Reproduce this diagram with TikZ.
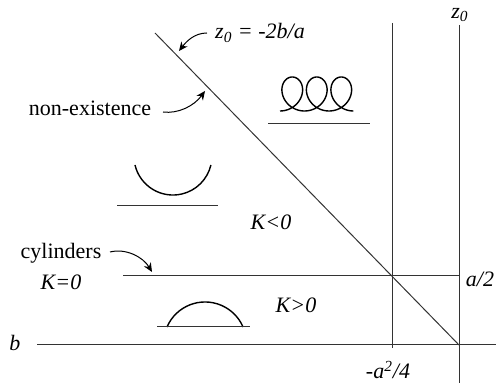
\documentclass[tikz,border=0pt]{standalone}
\usepackage{fontspec}
\setmainfont{Liberation Serif}
\usetikzlibrary{arrows.meta}

\begin{document}
\begin{tikzpicture}[
  x=0.5pt, y=-0.5pt,
  font=\rmfamily\fontsize{11}{13}\selectfont,
  txt/.style={inner sep=1pt},
  lbl/.style={txt, font=\rmfamily\fontsize{11}{13}\selectfont\itshape},
  ax/.style={draw=black!80, line width=0.5pt},
  shp/.style={draw=black, line width=0.7pt},
  ar/.style={-{Stealth[length=4.5pt,width=4pt]}, draw=black, line width=0.5pt},
]
\useasboundingbox (0,0) rectangle (496,383);

% axes and borders of the regions
\coordinate (bl) at (37,345);
\coordinate (br) at (496,345);
\coordinate (zt) at (459,25);
\coordinate (zb) at (459,383);
\coordinate (vt) at (392,23);
\coordinate (vb) at (392,348);
\coordinate (hl) at (123,276);
\coordinate (hr) at (459,276);
\coordinate (dt) at (155,33);
\coordinate (db) at (459,345);

\draw[ax] (bl) -- (br);
\draw[ax] (zt) -- (zb);
\draw[ax] (vt) -- (vb);
\draw[ax] (hl) -- (hr);
\draw[ax] (dt) -- (db);

\node[lbl] (b)    at (15,343)  {b};
\node[lbl] (z0)   at (460,15)  {z\textsubscript{0}};
\node[lbl] (a2)   at (480,279) {a/2};
\node[lbl] (a24)  at (388,370) {-a\textsuperscript{2}/4};
\node[lbl] (kneg) at (271,222) {K<0};
\node[lbl] (kpos) at (296,305) {K>0};

% pointers
\node[lbl] (zdef)  at (260,33)  {z\textsubscript{0} = -2b/a};
\node[txt] (nonex) at (90,108)  {non-existence};
\node[txt] (cyl)   at (61,253)  {cylinders};
\node[lbl] (kzero) at (61,282)  {K=0};

\coordinate (zdefs)  at (207,33);
\coordinate (zdeft)  at (179,51);
\coordinate (nonexs) at (163,112);
\coordinate (nonext) at (205,91);
\coordinate (cyls)   at (110,252);
\coordinate (cylt)   at (152,272);

\draw[ar] (zdefs) .. controls (194,33) and (186,42) .. (zdeft);
\draw[ar] (nonexs) .. controls (178,114) and (194,106) .. (nonext);
\draw[ar] (cyls) .. controls (126,248) and (143,257) .. (cylt);

% sketches of the profiles
\draw[shp] plot[domain=0:18.85, samples=240, smooth, variable=\t]
  ({280+3.9*\t+16*sin(\t r)}, {94+17*cos(\t r)});
\draw[ax] (268,124) -- (370,124);

\draw[shp] (135,165) arc[start angle=166.7, end angle=13.3, radius=39];
\draw[ax] (117,206) -- (218,206);

\draw[shp] (167,327) arc[start angle=203.3, end angle=336.7, radius=41.4];
\draw[ax] (157,327) -- (250,327);
\end{tikzpicture}
\end{document}
